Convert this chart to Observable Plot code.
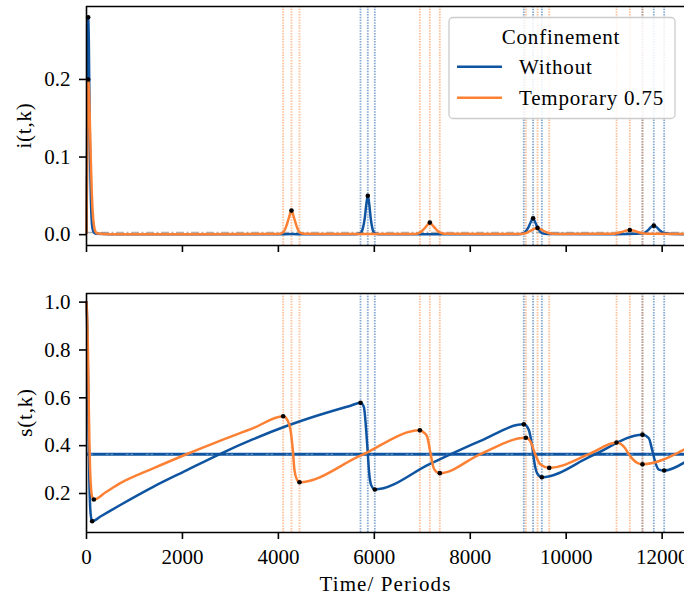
<!DOCTYPE html>
<html><head><meta charset="utf-8">
<script src="https://cdn.jsdelivr.net/npm/d3@7"></script>
<script src="https://cdn.jsdelivr.net/npm/@observablehq/plot@0.6"></script>
<style>
body{margin:0;background:#fff;}
#wrap{position:relative;width:684px;height:596px;overflow:hidden;font-family:"Liberation Serif","DejaVu Serif",serif;color:#000;}
#wrap svg{position:absolute;left:0;}
#wrap svg text{font-family:"Liberation Serif","DejaVu Serif",serif !important;}
</style></head><body><div id="wrap"></div>
<script>
// ---------- data ----------
const seriesNames = ["Without", "Temporary 0.75"];
const blueColor = "#0e54a1";
const orangeColor = "#fd8134";
const xTicks = [0, 2000, 4000, 6000, 8000, 10000, 12000];
const iTicks = [0.0, 0.1, 0.2];
const sTicks = [0.2, 0.4, 0.6, 0.8, 1.0];
const xLabel = "Time/ Periods";
const iLabel = "i(t,k)";
const sLabel = "s(t,k)";
const legendTitle = "Confinement";

// i(t,k) series [time, value]
const iWithout = [[0,0.002],[10,0.09],[22,0.22],[35,0.28],[48,0.25],[60,0.18],[75,0.1],[90,0.05],[105,0.022],[125,0.008],[150,0.003],[200,0.001],[500,0.0004],[4000,0.0004],[4273,0.0008],[4500,0.0005],[5600,0.0006],[5712,0.002],[5760,0.008],[5800,0.021],[5835,0.040],[5864,0.050],[5893,0.040],[5925,0.021],[5960,0.008],[6004,0.002],[6100,0.0006],[7000,0.0004],[9000,0.0006],[9116,0.002],[9200,0.008],[9260,0.016],[9310,0.021],[9360,0.015],[9420,0.007],[9492,0.002],[9600,0.0008],[11000,0.0006],[11590,0.0015],[11700,0.0055],[11770,0.0098],[11826,0.0116],[11885,0.0095],[11960,0.005],[12042,0.002],[12200,0.0008],[12466,0.0006]];
const iTemporary = [[0,0.002],[10,0.07],[22,0.16],[35,0.2],[50,0.19],[70,0.145],[90,0.095],[110,0.055],[130,0.028],[155,0.012],[185,0.004],[230,0.0015],[500,0.0006],[4000,0.0008],[4100,0.003],[4160,0.01],[4220,0.022],[4273,0.031],[4325,0.022],[4385,0.01],[4440,0.003],[4550,0.001],[6850,0.0008],[6949,0.0025],[7030,0.007],[7100,0.012],[7157,0.0155],[7215,0.012],[7285,0.007],[7365,0.0028],[7480,0.001],[9050,0.0009],[9158,0.002],[9260,0.005],[9340,0.0078],[9402,0.0087],[9470,0.007],[9560,0.0038],[9646,0.0018],[9800,0.0009],[10950,0.001],[11049,0.0017],[11160,0.0035],[11260,0.0053],[11326,0.006],[11410,0.005],[11500,0.0032],[11590,0.0018],[11750,0.001],[12466,0.0008]];
const iStar = 0.0026;
const iDotsWithout = [[35,0.28],[5864,0.050],[9310,0.021],[11826,0.0116]];
const iDotsTemporary = [[35,0.2],[4273,0.031],[7157,0.0155],[9402,0.0087],[11326,0.006]];

// s(t,k) series [time, value]
const sWithout = [[0,1.0],[15,0.9],[30,0.7],[45,0.45],[60,0.25],[75,0.15],[95,0.1],[118,0.084],[300,0.105],[695,0.151],[1390,0.228],[2085,0.297],[2780,0.365],[3475,0.427],[4169,0.482],[4800,0.525],[5503,0.567],[5712,0.579],[5781,0.562],[5830,0.466],[5864,0.368],[5893,0.284],[5935,0.235],[6010,0.217],[7171,0.325],[8214,0.42],[9116,0.489],[9220,0.466],[9291,0.396],[9339,0.327],[9395,0.284],[9492,0.268],[10542,0.358],[11590,0.446],[11722,0.431],[11792,0.382],[11862,0.327],[11930,0.300],[12042,0.296],[12466,0.330]];
const sTemporary = [[0,1.0],[15,0.93],[30,0.8],[45,0.6],[60,0.42],[75,0.3],[95,0.22],[120,0.185],[153,0.175],[400,0.205],[695,0.242],[1390,0.305],[2085,0.364],[2780,0.42],[3475,0.473],[4100,0.523],[4180,0.51],[4252,0.466],[4301,0.382],[4336,0.297],[4392,0.256],[4440,0.247],[5712,0.358],[6949,0.464],[7030,0.455],[7100,0.438],[7171,0.368],[7240,0.305],[7300,0.29],[7365,0.285],[8214,0.365],[9158,0.433],[9256,0.417],[9360,0.361],[9464,0.321],[9646,0.307],[10500,0.367],[11049,0.413],[11201,0.396],[11341,0.354],[11480,0.328],[11590,0.3225],[12466,0.385]];
const sThreshold = 0.364;
const sDotsWithout = [[118,0.084],[5712,0.579],[6010,0.217],[9116,0.489],[9492,0.268],[11590,0.446],[12042,0.296]];
const sDotsTemporary = [[153,0.175],[4100,0.523],[4440,0.247],[6949,0.464],[7365,0.285],[9158,0.433],[9646,0.307],[11049,0.413],[11590,0.3225]];

// event times (vertical markers)
const eventsWithout = [5712, 5864, 6010, 9116, 9310, 9492, 11590, 11826, 12042];
const eventsTemporary = [4100, 4273, 4440, 6949, 7157, 7365, 9158, 9402, 9646, 11049, 11326, 11590];

// ---------- drawing ----------
const W = 684;
const xDomain = [0, 12466];
const iDomain = [-0.014, 0.294];
const sDomain = [0.037, 1.036];
const FONT = '"Liberation Serif", "DejaVu Serif", serif';
const px = d => d[0], py = d => d[1];
const fmt = d3.format(".1f");

function vlines(data, color) {
  return Plot.ruleX(data, {x: d => d, stroke: color, strokeOpacity: 0.5, strokeWidth: 1.8, strokeDasharray: "1.5,1.2"});
}
function spines(domain) {
  return [
    Plot.ruleX([xDomain[0]], {stroke: "#000", strokeWidth: 1.6}),
    Plot.ruleY([domain[0]], {stroke: "#000", strokeWidth: 1.6}),
    Plot.ruleY([domain[1]], {stroke: "#000", strokeWidth: 1.6})
  ];
}
const style = {fontFamily: FONT, fontSize: "21px", color: "#000", background: "transparent", overflow: "visible"};

const topPlot = Plot.plot({
  width: W, height: 270, marginLeft: 86, marginRight: 0, marginTop: 6, marginBottom: 25,
  style,
  x: {domain: xDomain},
  y: {domain: iDomain},
  marks: [
    vlines(eventsWithout, blueColor),
    vlines(eventsTemporary, orangeColor),
    Plot.ruleY([iStar], {stroke: "#b0b0b0", strokeWidth: 1.5, strokeDasharray: "8,2.5,2,2.5"}),
    Plot.line(iWithout, {x: px, y: py, stroke: blueColor, strokeWidth: 2.5, curve: "monotone-x"}),
    Plot.line(iTemporary, {x: px, y: py, stroke: orangeColor, strokeWidth: 2.5, curve: "monotone-x"}),
    Plot.dot(iDotsWithout, {x: px, y: py, r: 2.3, fill: "#000"}),
    Plot.dot(iDotsTemporary, {x: px, y: py, r: 2.3, fill: "#000"}),
    Plot.axisX({ticks: xTicks, tickSize: 7, strokeWidth: 1.6, tickFormat: () => "", label: null}),
    Plot.axisY({ticks: iTicks, tickSize: 7, strokeWidth: 1.6, tickPadding: 9, tickFormat: fmt, label: null, fontSize: 21}),
    ...spines(iDomain)
  ]
});
topPlot.style.top = "0px";

const botPlot = Plot.plot({
  width: W, height: 326, marginLeft: 86, marginRight: 0, marginTop: 23, marginBottom: 64,
  style,
  x: {domain: xDomain},
  y: {domain: sDomain},
  marks: [
    vlines(eventsWithout, blueColor),
    vlines(eventsTemporary, orangeColor),
    Plot.ruleY([sThreshold], {stroke: blueColor, strokeWidth: 3}),
    Plot.ruleY([sThreshold], {stroke: "#fff", strokeOpacity: 0.6, strokeWidth: 0.7, strokeDasharray: "2.5,2,2.5,13"}),
    Plot.line(sWithout, {x: px, y: py, stroke: blueColor, strokeWidth: 2.5, curve: "monotone-x"}),
    Plot.line(sTemporary, {x: px, y: py, stroke: orangeColor, strokeWidth: 2.5, curve: "monotone-x"}),
    Plot.dot(sDotsWithout, {x: px, y: py, r: 2.3, fill: "#000"}),
    Plot.dot(sDotsTemporary, {x: px, y: py, r: 2.3, fill: "#000"}),
    Plot.axisX({ticks: xTicks, tickSize: 7, strokeWidth: 1.6, tickPadding: 10, tickFormat: d => String(d), label: null, fontSize: 21}),
    Plot.axisY({ticks: sTicks, tickSize: 7, strokeWidth: 1.6, tickPadding: 9, tickFormat: fmt, label: null, fontSize: 21}),
    ...spines(sDomain)
  ]
});
botPlot.style.top = "270px";

const wrap = document.getElementById("wrap");
wrap.appendChild(topPlot);
wrap.appendChild(botPlot);

// overlay: axis titles and legend
const ov = d3.create("svg").attr("width", W).attr("height", 596)
  .style("top", "0px").style("font-size", "21px").style("letter-spacing", "0.8px");
ov.append("text").attr("x", 385.5).attr("y", 591).attr("text-anchor", "middle").style("letter-spacing", "1.1px").text(xLabel);
ov.append("text").attr("transform", "translate(31,125.5) rotate(-90)").attr("text-anchor", "middle").text(iLabel);
ov.append("text").attr("transform", "translate(32,412.5) rotate(-90)").attr("text-anchor", "middle").text(sLabel);

const lg = ov.append("g");
lg.append("rect").attr("x", 449).attr("y", 17.5).attr("width", 226).attr("height", 101).attr("rx", 4)
  .attr("fill", "#fff").attr("fill-opacity", 0.85).attr("stroke", "#cccccc").attr("stroke-width", 1.3);
lg.append("text").attr("x", 561).attr("y", 43.5).attr("text-anchor", "middle").text(legendTitle);
const legendColors = [blueColor, orangeColor];
seriesNames.forEach((name, k) => {
  const y = 66.7 + k * 31;
  lg.append("line").attr("x1", 457).attr("x2", 502).attr("y1", y).attr("y2", y)
    .attr("stroke", legendColors[k]).attr("stroke-width", 2.5);
  lg.append("text").attr("x", 519).attr("y", y + 7.5).text(name);
});
wrap.appendChild(ov.node());
</script>
</body></html>
